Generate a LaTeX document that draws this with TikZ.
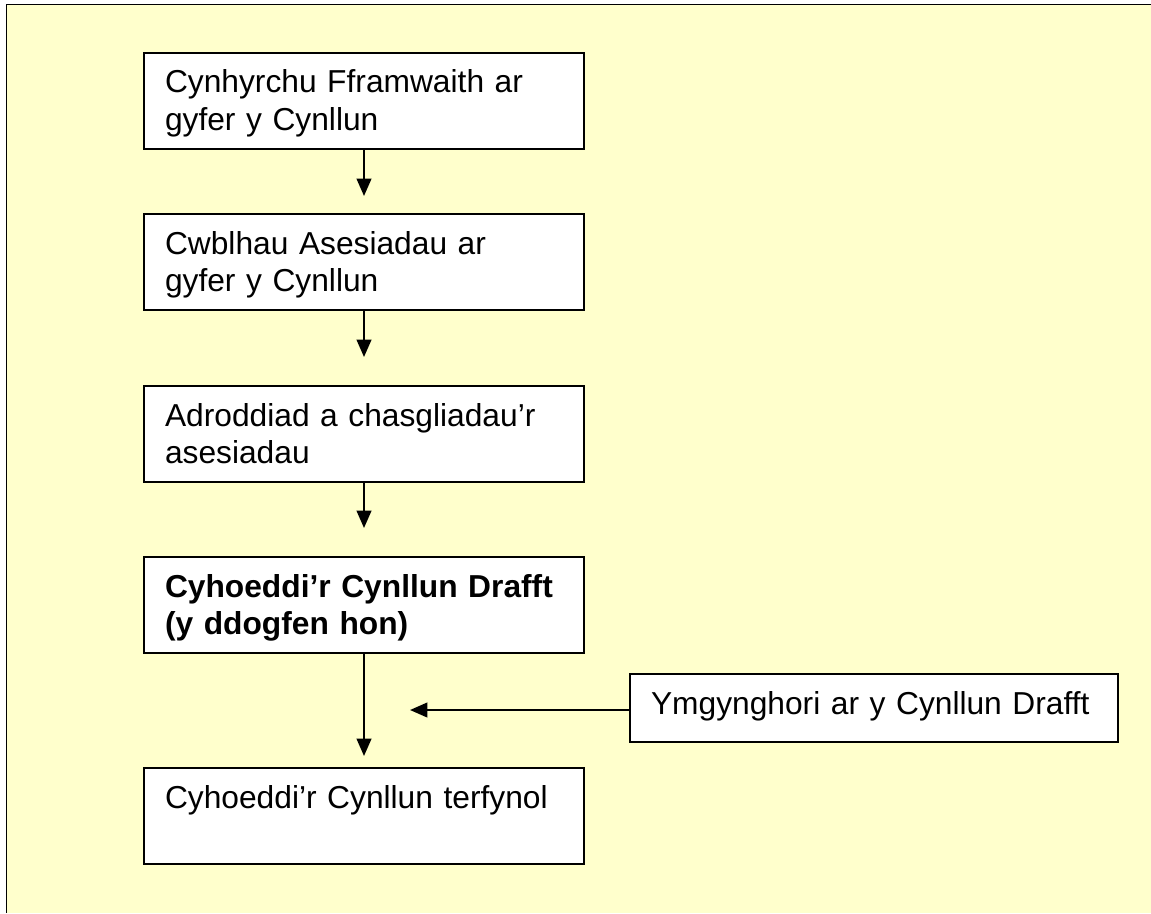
\documentclass[tikz,border=0pt]{standalone}
\usepackage{fontspec}
\setmainfont{Liberation Sans}
\usetikzlibrary{arrows.meta}
\definecolor{pagebg}{HTML}{FFFFCC}

\begin{document}
\begin{tikzpicture}[x=0.75pt, y=-0.75pt,
  stage/.style={draw, line width=1.5pt, fill=white, anchor=north west,
    inner xsep=15.75pt, inner ysep=0pt, align=left, text width=298.5pt,
    text height=30pt, text depth=42pt, font=\fontsize{23.8}{28}\selectfont},
  sidestage/.style={stage, text width=334.5pt, text depth=21pt},
  flow/.style={-{Triangle[length=13pt, width=11pt]}, line width=1.5pt}]

\useasboundingbox (0,0) rectangle (1151,913);

% ======================
% Page
% ======================
\fill[pagebg] (6,5) rectangle (1151,913);
\draw[line width=0.75pt] (1151,5) -- (6,5) -- (6,913);

% ======================
% Stages
% ======================
\node[stage] (frame) at (143,52) {Cynhyrchu Fframwaith ar\\gyfer y Cynllun};
\node[stage] (assess) at (143,213) {Cwblhau Asesiadau ar\\gyfer y Cynllun};
\node[stage] (report) at (143,385) {Adroddiad a chasgliadau’r\\asesiadau};
\node[stage] (draft) at (143,556) {\bfseries Cyhoeddi’r Cynllun Drafft\\(y ddogfen hon)};
\node[stage] (final) at (143,767) {Cyhoeddi’r Cynllun terfynol};

% ======================
% Consultation
% ======================
\node[sidestage] (consult) at (629,673) {Ymgynghori ar y Cynllun Drafft};
\coordinate (join) at (410,710);

% ======================
% Flow
% ======================
\draw[flow, shorten >=12.75pt] (frame.south) -- (assess.north);
\draw[flow, shorten >=21pt] (assess.south) -- (report.north);
\draw[flow, shorten >=21pt] (report.south) -- (draft.north);
\draw[flow, shorten >=8.25pt] (draft.south) -- (final.north);
\draw[flow] (consult.west |- join) -- (join);

\end{tikzpicture}
\end{document}
